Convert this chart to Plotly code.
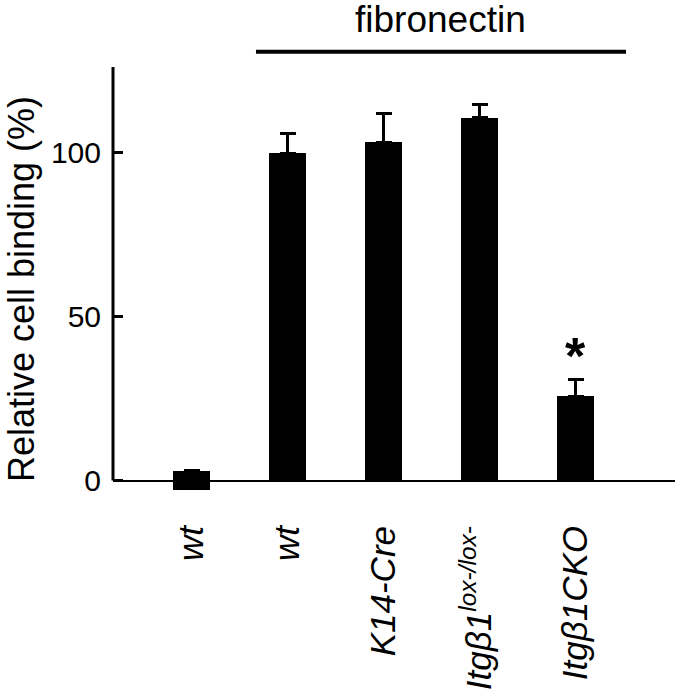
import plotly.graph_objects as go

# ---- data ----
labels = ["<i>wt</i>", "<i>wt</i>", "<i>K14-Cre</i>",
          "<i>Itgβ1<sup>lox-/lox-</sup></i>", "<i>Itgβ1CKO</i>"]
values = [3, 99.7, 103.1, 110.5, 25.7]
errors = [0, 5.9, 8.6, 4.0, 5.2]
y_tickvals = [0, 50, 100, 126]
y_ticktext = ["0", "50", "100", ""]
bracket_label = "fibronectin"
sig_marker = "*"

FONT = "Liberation Sans, Arial, sans-serif"
xpos = list(range(len(values)))
# first bar (no substrate) is drawn as a small stub centred on the baseline
bases = [-values[0]] + [0] * (len(values) - 1)
heights = [2 * values[0]] + values[1:]

fig = go.Figure()
fig.add_trace(go.Bar(
    x=xpos, y=heights, base=bases, width=0.385,
    marker=dict(color="black", line=dict(width=0)),
    error_y=dict(type="data", symmetric=False, array=errors,
                 arrayminus=[0] * len(errors), color="black",
                 thickness=3, width=8, visible=True),
    showlegend=False, hoverinfo="skip",
))

fig.update_layout(
    width=676, height=691,
    margin=dict(l=113, r=1, t=67, b=199, pad=0, autoexpand=False),
    plot_bgcolor="white", paper_bgcolor="white",
    font=dict(family=FONT, color="black"),
    bargap=0,
    xaxis=dict(range=[-0.818, 5.036], tickvals=xpos, ticktext=labels,
               tickangle=-90, tickfont=dict(size=35, family=FONT),
               showline=False, showgrid=False, zeroline=False, automargin=False,
               ticks="", ticklabelstandoff=26),
    yaxis=dict(range=[-3.5, 126], tickvals=y_tickvals, ticktext=y_ticktext,
               tickfont=dict(size=30, family=FONT), automargin=False,
               ticks="inside", ticklen=10, tickwidth=3, tickcolor="black",
               showline=False, showgrid=False, ticklabelstandoff=11,
               zeroline=True, zerolinecolor="black", zerolinewidth=2),
)

# y-axis line from 0 to top
fig.add_shape(type="line", xref="paper", yref="y", x0=0, x1=0, y0=0, y1=y_tickvals[-1],
              line=dict(color="black", width=3))

# y axis title
fig.add_annotation(text="Relative cell binding (%)", textangle=-90,
                   xref="paper", yref="paper", x=-0.164, y=0.477,
                   xanchor="center", yanchor="middle", showarrow=False,
                   font=dict(size=36, family=FONT))

# fibronectin bracket
fig.add_shape(type="line", xref="paper", yref="paper", x0=0.2544, x1=0.9128,
              y0=1.036, y1=1.036, line=dict(color="black", width=4))
fig.add_annotation(text=bracket_label, xref="paper", yref="paper",
                   x=0.5826, y=1.111, xanchor="center", yanchor="middle",
                   showarrow=False, font=dict(size=37, family=FONT))

# significance marker
fig.add_annotation(text="<b>" + sig_marker + "</b>", x=xpos[4], y=values[4] + errors[4] - 2.5,
                   xanchor="center", yanchor="bottom", showarrow=False,
                   font=dict(size=52, family=FONT))

fig.write_html("out.html", config={"displayModeBar": False},
               post_script="document.body.style.margin='0';document.body.style.overflow='hidden';")
